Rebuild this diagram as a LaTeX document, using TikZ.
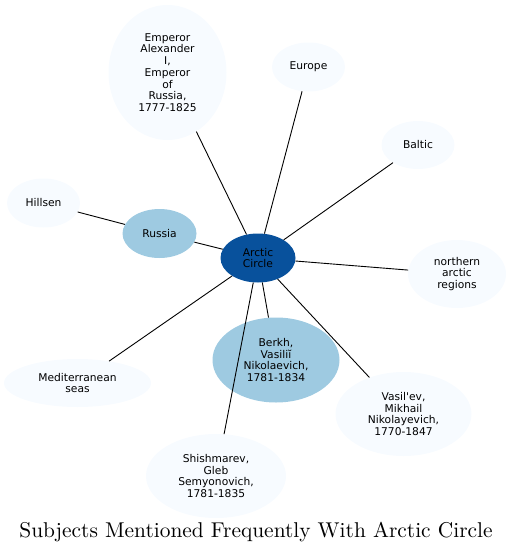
\documentclass[tikz,border=0pt]{standalone}
\usepackage{fontspec}
\usepackage{tikz}
\usetikzlibrary{shapes.geometric}
\newfontfamily\labelfont{DejaVu Sans}
\newfontfamily\titlefont{lmroman10-regular.otf}
\definecolor{hubBlue}{RGB}{8, 81, 156}
\definecolor{midBlue}{RGB}{158, 202, 225}
\definecolor{paleBlue}{RGB}{247, 251, 255}

\begin{document}
\begin{tikzpicture}[x=1pt, y=-1pt,
    subj/.style={ellipse, fill=paleBlue, inner sep=0pt, align=center,
      font=\labelfont\fontsize{10.7}{11.7}\selectfont},
    link/.style={line width=0.9pt}]
      \useasboundingbox (0,0) rectangle (512,554);

      % subjects
      \node[subj, fill=hubBlue, minimum width=75pt, minimum height=49pt] (arctic) at (258,258) {Arctic\\Circle};
      \node[subj, minimum width=118pt, minimum height=135pt] (emperor) at (167.5,72.5) {Emperor\\Alexander\\I,\\Emperor\\of\\Russia,\\1777-1825};
      \node[subj, minimum width=73pt, minimum height=49pt] (europe) at (308.5,67) {Europe};
      \node[subj, minimum width=73pt, minimum height=48pt] (baltic) at (418,145) {Baltic};
      \node[subj, minimum width=73pt, minimum height=49pt] (hillsen) at (43.5,203) {Hillsen};
      \node[subj, fill=midBlue, minimum width=74pt, minimum height=49pt] (russia) at (159.5,233.5) {Russia};
      \node[subj, minimum width=98pt, minimum height=68pt] (northern) at (457,274) {northern\\arctic\\regions};
      \node[subj, minimum width=147pt, minimum height=48pt] (medit) at (77.5,383) {Mediterranean\\seas};
      \node[subj, fill=midBlue, minimum width=127pt, minimum height=85pt] (berkh) at (276,360) {Berkh,\\Vasiliĭ\\Nikolaevich,\\1781-1834};
      \node[subj, minimum width=136pt, minimum height=84pt] (vasilev) at (403.5,414) {Vasil'ev,\\Mikhail\\Nikolayevich,\\1770-1847};
      \node[subj, minimum width=140pt, minimum height=84pt] (shishmarev) at (216,476) {Shishmarev,\\Gleb\\Semyonovich,\\1781-1835};

      % links
      \draw[link] (hillsen) -- (russia);
      \draw[link] (russia) -- (arctic);
      \foreach \other in {emperor, europe, baltic, northern, medit, berkh, vasilev, shishmarev}
        \draw[link] (arctic) -- (\other);

      \node[font=\titlefont\fontsize{21.4}{24}\selectfont] (title) at (256,532) {Subjects Mentioned Frequently With Arctic Circle};
    \end{tikzpicture}
\end{document}
